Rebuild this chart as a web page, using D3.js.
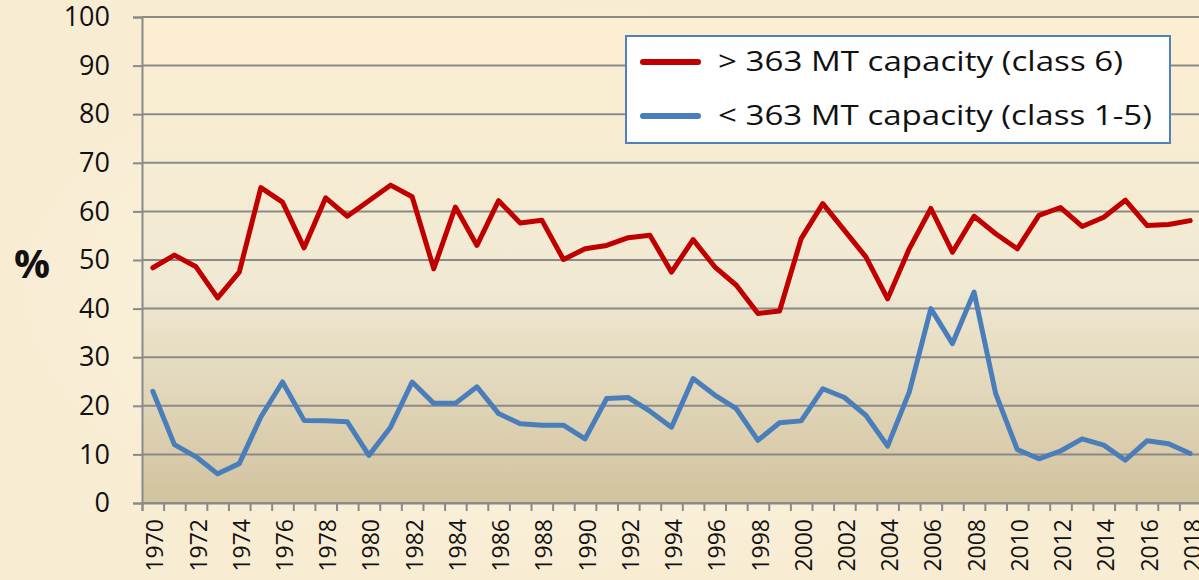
<!DOCTYPE html>
<html>
<head>
<meta charset="utf-8">
<script src="https://cdn.jsdelivr.net/npm/d3@7"></script>
<style>
  html, body { margin: 0; padding: 0; background: #faefd9; overflow: hidden; }
  svg { display: block; font-family: "Open Sans", sans-serif; }
</style>
</head>
<body>
<div id="chart"></div>
<script>
// years 1970..2018
const years = d3.range(1970, 2019);
const yTicks = [0, 10, 20, 30, 40, 50, 60, 70, 80, 90, 100];
const xLabelYears = d3.range(1970, 2019, 2);

// > 363 MT capacity (class 6)
const bigShips = [48.4, 51.0, 48.6, 42.2, 47.5, 64.9, 61.9, 52.5, 62.8, 59.0,
  62.2, 65.4, 63.0, 48.2, 60.9, 53.0, 62.2, 57.6, 58.2, 50.1,
  52.3, 53.0, 54.6, 55.1, 47.5, 54.2, 48.6, 44.8, 39.0, 39.5,
  54.4, 61.6, 56.1, 50.6, 42.0, 52.3, 60.6, 51.6, 59.0, 55.4,
  52.3, 59.2, 60.8, 56.9, 58.8, 62.3, 57.1, 57.3, 58.1];

// < 363 MT capacity (class 1-5)
const smallShips = [23.0, 12.0, 9.5, 6.0, 8.1, 17.7, 24.9, 17.0, 16.9, 16.7,
  9.8, 15.6, 24.9, 20.5, 20.5, 23.9, 18.4, 16.3, 16.0, 16.0,
  13.2, 21.5, 21.7, 18.9, 15.6, 25.6, 22.2, 19.4, 12.9, 16.5,
  16.9, 23.5, 21.7, 18.0, 11.7, 22.8, 40.0, 32.8, 43.4, 22.5,
  11.0, 9.1, 10.7, 13.2, 11.9, 8.8, 12.8, 12.2, 10.2];

const seriesNames = ["> 363 MT capacity (class 6)", "< 363 MT capacity (class 1-5)"];
const seriesColors = ["#c00000", "#4a7ebb"];

function drawChart() {
  const W = 1199, H = 580;
  const margin = { top: 17, right: -2, bottom: 77, left: 142 };
  const width = W - margin.left - margin.right;
  const height = H - margin.top - margin.bottom;

  const svg = d3.select("#chart").append("svg")
    .attr("width", W)
    .attr("height", H);

  const defs = svg.append("defs");
  const grad = defs.append("linearGradient")
    .attr("id", "plotBg")
    .attr("x1", 0).attr("y1", 0).attr("x2", 0).attr("y2", 1);
  grad.append("stop").attr("offset", "0%").attr("stop-color", "#fdefd1");
  grad.append("stop").attr("offset", "55%").attr("stop-color", "#f0e9d3");
  grad.append("stop").attr("offset", "100%").attr("stop-color", "#d2c39f");

  // faint parchment background
  const paper = defs.append("radialGradient").attr("id", "paper");
  paper.append("stop").attr("offset", "0%").attr("stop-color", "#fff7e6");
  paper.append("stop").attr("offset", "100%").attr("stop-color", "#f8ecd3");
  svg.append("rect").attr("width", W).attr("height", H).attr("fill", "url(#paper)");

  const g = svg.append("g")
    .attr("transform", "translate(" + margin.left + "," + margin.top + ")");

  const x = d3.scaleLinear()
    .domain([1969.5, 2018.5])
    .range([0, width]);

  const y = d3.scaleLinear()
    .domain([0, 100])
    .range([height, 0]);

  g.append("rect")
    .attr("width", width)
    .attr("height", height)
    .attr("fill", "url(#plotBg)");

  // gridlines
  g.append("g")
    .selectAll("line")
    .data(yTicks)
    .enter().append("line")
    .attr("x1", 0).attr("x2", width)
    .attr("y1", d => y(d)).attr("y2", d => y(d))
    .attr("stroke", "#8a8a8a")
    .attr("stroke-width", 2);

  // y axis
  const yAxis = g.append("g")
    .call(d3.axisLeft(y).tickValues(yTicks).tickSize(9).tickPadding(23));
  yAxis.select(".domain").attr("stroke", "#8a8a8a").attr("stroke-width", 2);
  yAxis.selectAll(".tick line").attr("stroke", "#8a8a8a").attr("stroke-width", 2);
  yAxis.selectAll(".tick text")
    .attr("fill", "#111")
    .style("font-size", "27px")
    .style("font-family", "'Open Sans', sans-serif");

  // x axis: tick marks at the category boundaries
  const xTickAxis = g.append("g")
    .attr("transform", "translate(0," + height + ")")
    .call(d3.axisBottom(x)
      .tickValues(d3.range(1969.5, 2019, 1))
      .tickSize(8)
      .tickFormat(""));
  xTickAxis.select(".domain").attr("stroke", "#8a8a8a").attr("stroke-width", 2);
  xTickAxis.selectAll(".tick line").attr("stroke", "#8a8a8a").attr("stroke-width", 2);

  // x labels every other year
  const xLabelAxis = g.append("g")
    .attr("transform", "translate(0," + height + ")")
    .call(d3.axisBottom(x)
      .tickValues(xLabelYears)
      .tickSize(0)
      .tickFormat(d3.format("d")));
  xLabelAxis.select(".domain").remove();
  xLabelAxis.selectAll(".tick text")
    .attr("fill", "#111")
    .style("font-size", "23px")
    .style("font-family", "'Open Sans', sans-serif")
    .attr("text-anchor", "end")
    .attr("transform", "translate(2,16) rotate(-90)")
    .attr("x", 0)
    .attr("y", 0)
    .attr("dy", "0.35em");

  // % label
  svg.append("text")
    .attr("x", 32)
    .attr("y", 278)
    .attr("text-anchor", "middle")
    .attr("font-weight", "bold")
    .attr("font-size", "40px")
    .attr("fill", "#111")
    .text("%");

  // lines
  const line = d3.line()
    .x((d, i) => x(years[i]))
    .y(d => y(d));

  [bigShips, smallShips].forEach((s, k) => {
    g.append("path")
      .datum(s)
      .attr("fill", "none")
      .attr("stroke", seriesColors[k])
      .attr("stroke-width", 5)
      .attr("stroke-linejoin", "round")
      .attr("stroke-linecap", "round")
      .attr("d", line);
  });

  // legend
  const legend = svg.append("g").attr("transform", "translate(626,36)");
  legend.append("rect")
    .attr("width", 544)
    .attr("height", 107)
    .attr("fill", "#ffffff")
    .attr("stroke", "#4f81bd")
    .attr("stroke-width", 2);

  const legendWidths = [405, 434];
  seriesNames.forEach((name, k) => {
    const ly = 26 + k * 54;
    legend.append("line")
      .attr("x1", 17).attr("x2", 72)
      .attr("y1", ly).attr("y2", ly)
      .attr("stroke", seriesColors[k])
      .attr("stroke-width", 6)
      .attr("stroke-linecap", "round");
    legend.append("text")
      .attr("x", 92)
      .attr("y", ly)
      .attr("dy", "0.35em")
      .attr("font-size", "27px")
      .attr("fill", "#111")
      .attr("textLength", legendWidths[k])
      .attr("lengthAdjust", "spacingAndGlyphs")
      .text(name);
  });
}

drawChart();
</script>
</body>
</html>
